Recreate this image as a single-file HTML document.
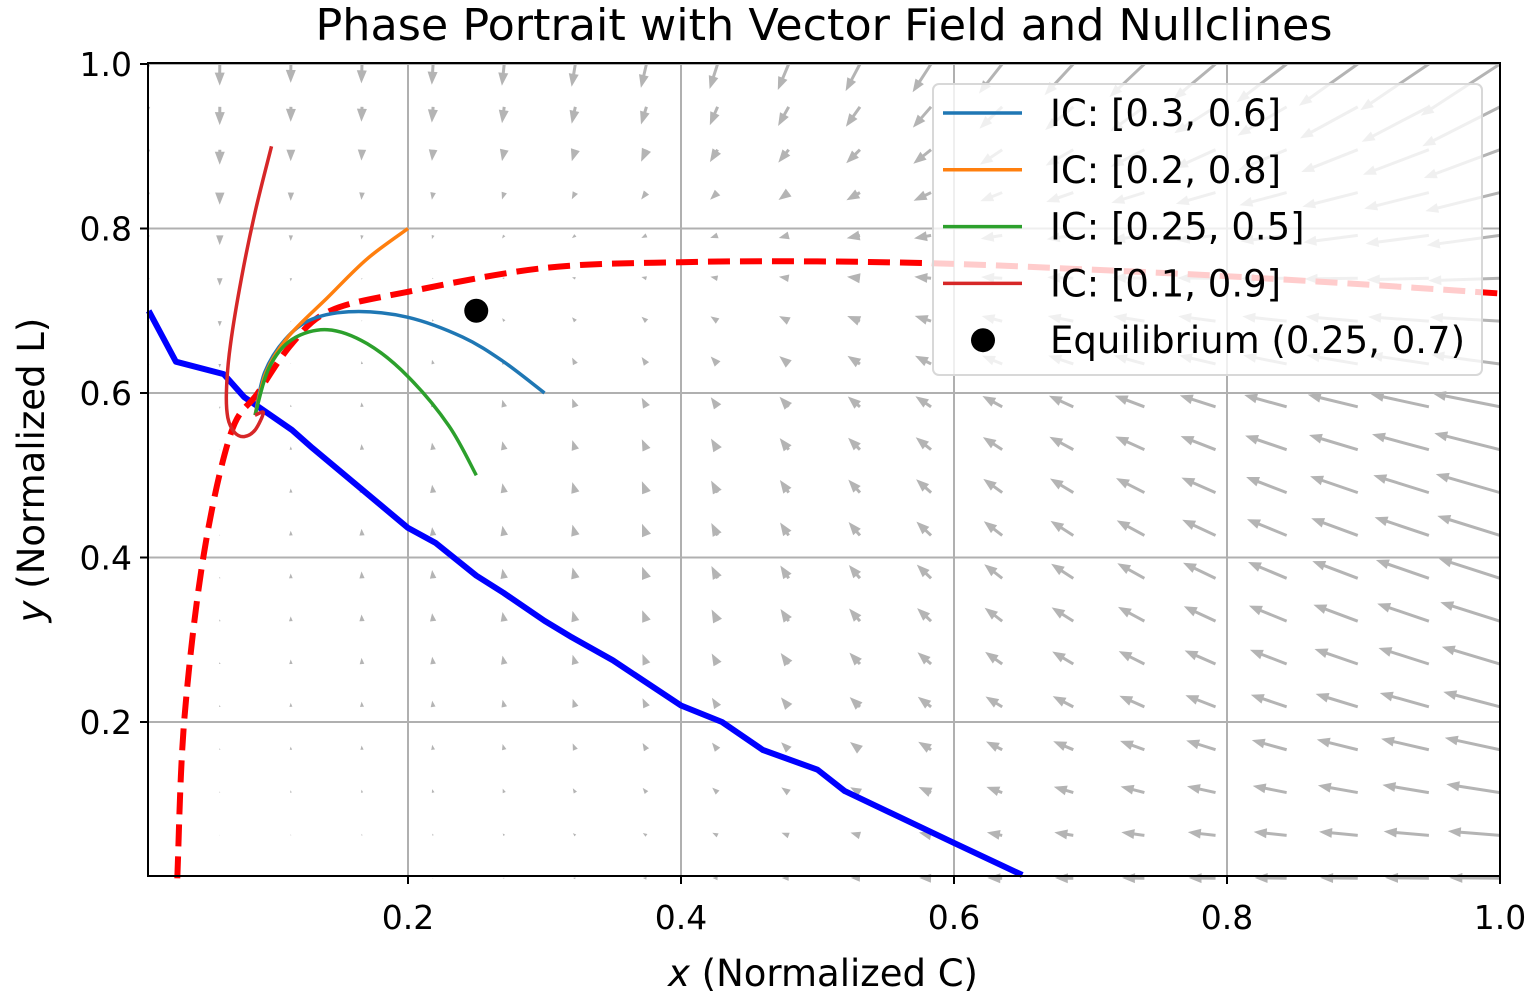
<!DOCTYPE html>
<html><head><meta charset="utf-8"><style>
html,body{margin:0;padding:0;background:#fff;}
svg{display:block;font-family:"DejaVu Sans","Liberation Sans",sans-serif;}
</style></head><body>
<svg id="chart" width="1535" height="999" viewBox="0 0 1535 999" xmlns="http://www.w3.org/2000/svg">
<text x="824" y="40" font-size="44" text-anchor="middle" fill="#000" textLength="1017" lengthAdjust="spacingAndGlyphs">Phase Portrait with Vector Field and Nullclines</text>
<g id="grid"></g><g id="quiver"></g><g id="lines"></g>
<rect x="148" y="63" width="1352" height="813" fill="none" stroke="#000" stroke-width="2"/>
<g id="ticks"></g>
<text x="823" y="986" font-size="37" text-anchor="middle"><tspan font-style="italic">x</tspan> (Normalized C)</text>
<text transform="translate(44,470) rotate(-90)" font-size="37" text-anchor="middle"><tspan font-style="italic">y</tspan> (Normalized L)</text>
<g id="legend"></g>
</svg>
<script>
const xTicks=[0.2,0.4,0.6,0.8,1.0];
const yTicks=[0.2,0.4,0.6,0.8,1.0];
const tickLabels=["0.2","0.4","0.6","0.8","1.0"];
const nullRedX=[0.031,0.036,0.05,0.07,0.09,0.115,0.143,0.2,0.3,0.4,0.5,0.6,0.7,0.8,0.9,1.0];
const nullRedY=[0.01,0.2,0.4,0.55,0.6,0.66,0.7,0.723,0.752,0.759,0.76,0.757,0.75,0.742,0.732,0.721];
const nullBlueX=[0.01,0.03,0.065,0.08,0.095,0.115,0.13,0.2,0.22,0.25,0.27,0.3,0.32,0.35,0.4,0.43,0.46,0.5,0.52,0.6,0.65];
const nullBlueY=[0.7,0.638,0.623,0.595,0.578,0.555,0.533,0.436,0.418,0.378,0.357,0.323,0.303,0.275,0.22,0.2,0.166,0.142,0.116,0.053,0.014];
const trajBlueX=[0.3,0.27,0.24,0.2,0.161,0.13,0.11,0.095,0.088];
const trajBlueY=[0.6,0.638,0.668,0.692,0.699,0.69,0.665,0.625,0.573];
const trajOrangeX=[0.2,0.17,0.141,0.112,0.096,0.088];
const trajOrangeY=[0.8,0.763,0.716,0.668,0.625,0.573];
const trajGreenX=[0.25,0.23,0.2,0.17,0.141,0.115,0.098,0.088];
const trajGreenY=[0.5,0.56,0.62,0.66,0.677,0.665,0.63,0.573];
const trajRedX=[0.1,0.088,0.078,0.07,0.067,0.068,0.073,0.08,0.088,0.094,0.088];
const trajRedY=[0.9,0.82,0.74,0.66,0.604,0.57,0.552,0.547,0.555,0.576,0.573];
const eqX=[0.25], eqY=[0.7];
const gridVals=[0.01,0.0621,0.1142,0.1663,0.2184,0.2705,0.3226,0.3747,0.4268,0.4789,0.5311,0.5832,0.6353,0.6874,0.7395,0.7916,0.8437,0.8958,0.9479,1.0];

const NS="http://www.w3.org/2000/svg";
const X=v=>135+1365*v, Y=v=>886.5-822.5*v;
function mk(t,a,p){const e=document.createElementNS(NS,t);for(const k in a)e.setAttribute(k,a[k]);p.appendChild(e);return e;}
const G=document.getElementById('grid'),Q=document.getElementById('quiver'),L=document.getElementById('lines'),T=document.getElementById('ticks'),LG=document.getElementById('legend');
xTicks.forEach((v,i)=>{
 const g=mk('line',{x1:X(v),x2:X(v),y1:63,y2:876,stroke:'#b0b0b0','stroke-width':2},G);
 
 mk('line',{x1:X(v),x2:X(v),y1:876,y2:884,stroke:'#000','stroke-width':2},T);
 const t=mk('text',{x:X(v),y:929,'font-size':33,'text-anchor':'middle'},T);t.textContent=tickLabels[i];
 
});
yTicks.forEach((v,i)=>{
 const g=mk('line',{x1:148,x2:1500,y1:Y(v),y2:Y(v),stroke:'#b0b0b0','stroke-width':2},G);
 
 mk('line',{x1:140,x2:148,y1:Y(v),y2:Y(v),stroke:'#000','stroke-width':2},T);
 const t=mk('text',{x:132,y:Y(v)+12,'font-size':33,'text-anchor':'end'},T);t.textContent=tickLabels[i];
 
});
function ycurve(x){if(x<nullRedX[0])return 0;for(let i=1;i<nullRedX.length;i++){if(x<=nullRedX[i]){const a=nullRedX[i-1],b=nullRedX[i];const t=(x-a)/(b-a);return nullRedY[i-1]+t*(nullRedY[i]-nullRedY[i-1]);}}return nullRedY[nullRedY.length-1];}
gridVals.forEach(xv=>gridVals.forEach(yv=>{
 const yc=ycurve(xv);
 const u=-72*Math.pow(xv,2.7)*(0.7+0.4*yv);
 const vv=(yc-yv)*Math.pow(yv,1.2)*(25+300*xv*(1-xv)+160*Math.pow(xv,4))*Math.min(1,xv/0.06);
 const len=Math.hypot(u,vv);if(len<0.6)return;
 const dx=u/len,dy=-vv/len,px=-dy,py=dx;
 const x0=X(xv),y0=Y(yv);
 let hl=13,hw=5,sw=1.5;
 let s=1;if(len<hl){s=len/hl;}
 hl*=s;hw*=s;sw*=s;
 const x1=x0+dx*len,y1=y0+dy*len,bx=x1-dx*hl,by=y1-dy*hl;
 const pts=[[x0+px*sw,y0+py*sw],[bx+px*sw,by+py*sw],[bx+px*hw,by+py*hw],[x1,y1],[bx-px*hw,by-py*hw],[bx-px*sw,by-py*sw],[x0-px*sw,y0-py*sw]];
 const a=mk('polygon',{points:pts.map(p=>p[0].toFixed(1)+','+p[1].toFixed(1)).join(' '),fill:'#b4b4b4'},Q);
 
}));
function smooth(P){let d='M'+P[0][0].toFixed(1)+','+P[0][1].toFixed(1);
 for(let i=0;i<P.length-1;i++){const p0=P[i-1]||P[i],p1=P[i],p2=P[i+1],p3=P[i+2]||p2;
  const c1=[p1[0]+(p2[0]-p0[0])/6,p1[1]+(p2[1]-p0[1])/6],c2=[p2[0]-(p3[0]-p1[0])/6,p2[1]-(p3[1]-p1[1])/6];
  d+=' C'+c1.map(v=>v.toFixed(1))+' '+c2.map(v=>v.toFixed(1))+' '+p2.map(v=>v.toFixed(1));}
 return d;}
function path(xs,ys,attrs,name,sm){
 const P=xs.map((x,i)=>[X(x),Y(ys[i])]);
 const d=sm?smooth(P):P.map((p,i)=>(i?'L':'M')+p[0].toFixed(1)+','+p[1].toFixed(1)).join(' ');
 const p=mk('path',Object.assign({d:d,fill:'none','stroke-linejoin':'round'},attrs),L);
 
}
path(nullBlueX,nullBlueY,{stroke:'#0000ff','stroke-width':6},'x-nullcline',false);
path(nullRedX,nullRedY,{stroke:'#ff0000','stroke-width':6,'stroke-dasharray':'22,10'},'y-nullcline',true);
path(trajBlueX,trajBlueY,{stroke:'#1f77b4','stroke-width':3.5},'trajectory-ic-0.3-0.6',true);
path(trajOrangeX,trajOrangeY,{stroke:'#ff7f0e','stroke-width':3.5},'trajectory-ic-0.2-0.8',true);
path(trajGreenX,trajGreenY,{stroke:'#2ca02c','stroke-width':3.5},'trajectory-ic-0.25-0.5',true);
path(trajRedX,trajRedY,{stroke:'#d62728','stroke-width':3.5},'trajectory-ic-0.1-0.9',true);
const eq=mk('circle',{cx:X(eqX[0]),cy:Y(eqY[0]),r:12,fill:'#000'},L);

const lb=mk('rect',{x:933,y:84,width:549,height:291,rx:6,fill:'rgba(255,255,255,0.8)',stroke:'#d8d8d8','stroke-width':2},LG);

const legLabels=["IC: [0.3, 0.6]","IC: [0.2, 0.8]","IC: [0.25, 0.5]","IC: [0.1, 0.9]","Equilibrium (0.25, 0.7)"];
const legColors=["#1f77b4","#ff7f0e","#2ca02c","#d62728","#000"];
legLabels.forEach((s,i)=>{
 const y=113+i*56.8;
 const g=mk('g',{},LG);
 if(i<4)mk('line',{x1:943,x2:1022,y1:y,y2:y,stroke:legColors[i],'stroke-width':3.5},g);
 else mk('circle',{cx:983,cy:y,r:12,fill:'#000'},g);
 const t=mk('text',{x:1050,y:y+13,'font-size':37},g);t.textContent=s;
});
</script>
</body></html>
